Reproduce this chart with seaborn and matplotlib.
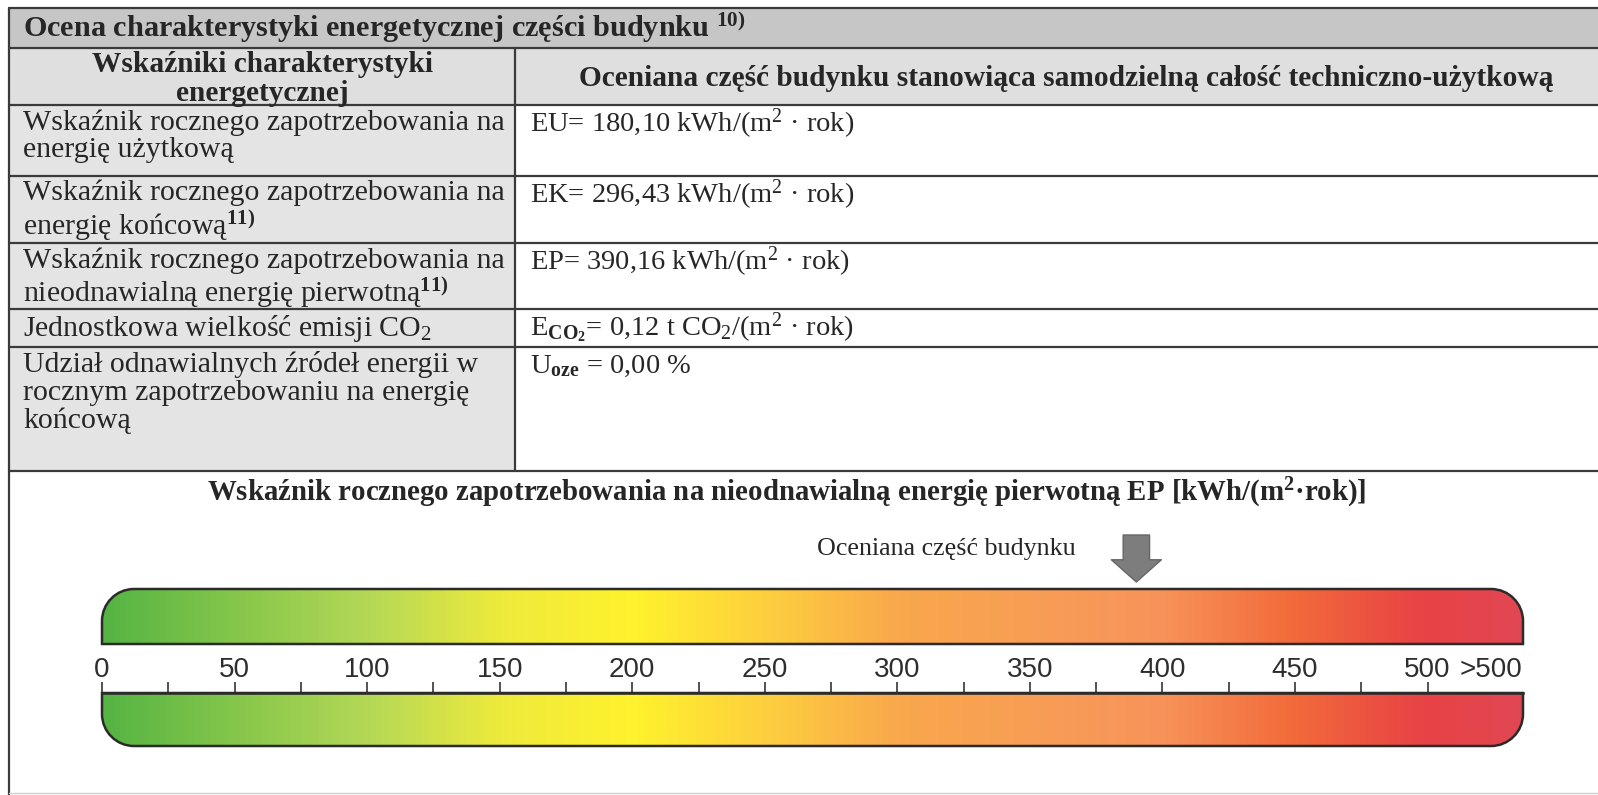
import numpy as np
import matplotlib
matplotlib.use("Agg")
import matplotlib.pyplot as plt
import seaborn as sns
from matplotlib.patches import Rectangle, PathPatch
from matplotlib.path import Path

# --- data -------------------------------------------------------------
table_title = r"Ocena charakterystyki energetycznej części budynku $^{\mathbf{10)}}$"
header_left = ["Wskaźniki charakterystyki", "energetycznej"]
header_right = "Oceniana część budynku stanowiąca samodzielną całość techniczno-użytkową"

row_labels = [
    ["Wskaźnik rocznego zapotrzebowania na", "energię użytkową"],
    ["Wskaźnik rocznego zapotrzebowania na", r"energię końcową$^{\mathbf{11)}}$"],
    ["Wskaźnik rocznego zapotrzebowania na", r"nieodnawialną energię pierwotną$^{\mathbf{11)}}$"],
    [r"Jednostkowa wielkość emisji CO$_2$"],
    ["Udział odnawialnych źródeł energii w", "rocznym zapotrzebowaniu na energię", "końcową"],
]
row_values = [
    r"EU= 180,10 kWh/(m$^2$ · rok)",
    r"EK= 296,43 kWh/(m$^2$ · rok)",
    r"EP= 390,16 kWh/(m$^2$ · rok)",
    r"E$_{\mathbf{CO_2}}$= 0,12 t CO$_2$/(m$^2$ · rok)",
    r"U$_{\mathbf{oze}}$ = 0,00 %",
]

scale_title = r"Wskaźnik rocznego zapotrzebowania na nieodnawialną energię pierwotną EP [kWh/(m$^{\mathbf{2}}$·rok)]"
marker_label = "Oceniana część budynku"
ep_value = 390.16

scale_ticks = [0, 50, 100, 150, 200, 250, 300, 350, 400, 450, 500]
scale_minor = [25, 75, 125, 175, 225, 275, 325, 375, 425, 475]
scale_over = ">500"
scale_over_at = 524
scale_max = 536
# colour of the scale every 50 units, 0..550
scale_colors = ["#55b443", "#86c64b", "#b4d856", "#eeea3c", "#fff22d", "#fdcf3e",
                "#f9a84c", "#f89e55", "#f7935a", "#f26a3a", "#e84246", "#df4a58"]

# --- style ------------------------------------------------------------
sns.set_theme(style="white")
plt.rcParams["font.family"] = ["Liberation Serif", "DejaVu Serif"]
plt.rcParams["mathtext.fontset"] = "custom"
plt.rcParams["mathtext.rm"] = "Liberation Serif"
plt.rcParams["mathtext.it"] = "Liberation Serif:italic"
plt.rcParams["mathtext.bf"] = "Liberation Serif:bold"

W, H = 1598, 795
fig = plt.figure(figsize=(W / 100, H / 100), dpi=100)
fig.patch.set_facecolor("white")
ax = fig.add_axes([0, 0, 1, 1])
ax.set_xlim(0, W)
ax.set_ylim(H, 0)
ax.axis("off")

ink = "#262626"
line_c = "#3a3a3a"
col_x = [9, 515, W]
row_y = [8, 48, 105, 176, 243, 309, 347, 471]

# cell backgrounds
ax.add_patch(Rectangle((col_x[0], row_y[0]), W - col_x[0], row_y[1] - row_y[0], fc="#c6c6c6", ec="none"))
ax.add_patch(Rectangle((col_x[0], row_y[1]), W - col_x[0], row_y[2] - row_y[1], fc="#dfdfdf", ec="none"))
ax.add_patch(Rectangle((col_x[0], row_y[2]), col_x[1] - col_x[0], row_y[-1] - row_y[2], fc="#e4e4e4", ec="none"))

# grid lines
for y in row_y:
    ax.plot([col_x[0], W], [y, y], color=line_c, lw=1.6)
ax.plot([col_x[0], col_x[0]], [row_y[0], H], color=line_c, lw=1.6)
ax.plot([col_x[1], col_x[1]], [row_y[1], row_y[-1]], color=line_c, lw=1.6)
ax.plot([col_x[0], W], [H - 2, H - 2], color="#d0d0d0", lw=1.0)

fs_bold = 21.2
fs_lab = 21.5
fs_val = 20.5
ax.text(23, 28, table_title, fontsize=21.8, fontweight="bold", color=ink, va="center")
ax.text(262, 51, "\n".join(header_left), fontsize=fs_bold, fontweight="bold", color=ink,
        ha="center", va="top", multialignment="center", linespacing=1.1)
ax.text(1066, 79, header_right, fontsize=fs_bold, fontweight="bold", color=ink, ha="center", va="center")

for r, lines in enumerate(row_labels):
    top = row_y[r + 2]
    ax.text(23, top + 4, "\n".join(lines), fontsize=fs_lab, color=ink, va="top",
            linespacing=1.08)
    ax.text(530, top + 19, row_values[r], fontsize=fs_val, color=ink, va="center")

ax.text(787, 493, scale_title, fontsize=20.8, fontweight="bold", color=ink, ha="center", va="center")
ax.text(1076, 549, marker_label, fontsize=18.7, color=ink, ha="right", va="center")

# --- scale bar --------------------------------------------------------
bx0, bx1 = 102, 1523
by_top, by_bot = 589, 746
bax = fig.add_axes([bx0 / W, (H - by_bot) / H, (bx1 - bx0) / W, (by_bot - by_top) / H])
bax.set_xlim(0, scale_max)
bax.set_ylim(0, 1)
bax.patch.set_alpha(0)

cmap = sns.blend_palette(scale_colors, as_cmap=True)
grad = np.linspace(0, scale_max, 800)[None, :]

px_per_unit = (bx1 - bx0) / scale_max
rx = 32 / px_per_unit
ry = 32 / (by_bot - by_top)
k = 0.5523
axis_y = (by_bot - 693) / (by_bot - by_top)
up_y0 = (by_bot - 644) / (by_bot - by_top)


def upper_path(x0, x1, y0, y1):
    verts = [(x0, y0), (x0, y1 - ry),
             (x0, y1 - ry + k * ry), (x0 + rx - k * rx, y1), (x0 + rx, y1),
             (x1 - rx, y1),
             (x1 - rx + k * rx, y1), (x1, y1 - ry + k * ry), (x1, y1 - ry),
             (x1, y0), (x0, y0)]
    codes = [Path.MOVETO, Path.LINETO, Path.CURVE4, Path.CURVE4, Path.CURVE4,
             Path.LINETO, Path.CURVE4, Path.CURVE4, Path.CURVE4, Path.LINETO, Path.CLOSEPOLY]
    return Path(verts, codes)


def lower_path(x0, x1, y0, y1):
    verts = [(x0, y1), (x1, y1), (x1, y0 + ry),
             (x1, y0 + ry - k * ry), (x1 - rx + k * rx, y0), (x1 - rx, y0),
             (x0 + rx, y0),
             (x0 + rx - k * rx, y0), (x0, y0 + ry - k * ry), (x0, y0 + ry),
             (x0, y1)]
    codes = [Path.MOVETO, Path.LINETO, Path.LINETO, Path.CURVE4, Path.CURVE4, Path.CURVE4,
             Path.LINETO, Path.CURVE4, Path.CURVE4, Path.CURVE4, Path.CLOSEPOLY]
    return Path(verts, codes)


for path, (y0, y1) in [(upper_path(0, scale_max, up_y0, 1.0), (up_y0, 1.0)),
                       (lower_path(0, scale_max, 0.0, axis_y), (0.0, axis_y))]:
    im = bax.imshow(grad, extent=[0, scale_max, y0, y1], cmap=cmap, vmin=0, vmax=550,
                    aspect="auto", interpolation="bilinear")
    outline = PathPatch(path, fc="none", ec="#2b2b2b", lw=1.8, clip_on=False)
    bax.add_patch(outline)
    im.set_clip_path(outline)

bax.set_xlim(0, scale_max)
bax.set_ylim(0, 1)
bax.set_yticks([])
sns.despine(ax=bax, left=True, right=True, bottom=True, top=False)
bax.xaxis.tick_top()
bax.spines["top"].set_position(("axes", axis_y))
bax.spines["top"].set_color("#2b2b2b")
bax.spines["top"].set_linewidth(1.8)
bax.set_xticks(scale_ticks)
bax.set_xticklabels([str(v) for v in scale_ticks])
bax.set_xticks(scale_minor, minor=True)
tick_len = 8
tick_pad = -0.5
bax.tick_params(axis="x", which="both", direction="out", length=tick_len, width=1.3,
                color="#444444", pad=tick_pad, top=True, bottom=False)
bax.tick_params(axis="x", which="major", labelsize=20, labelcolor="#2e2e2e",
                labelfontfamily="Liberation Sans")
bax.annotate(scale_over, xy=(scale_over_at, axis_y), xycoords=bax.get_xaxis_transform(),
             xytext=(0, tick_len + tick_pad), textcoords="offset points",
             fontsize=20, color="#2e2e2e", family="Liberation Sans",
             ha="center", va="bottom")

# arrow marking the assessed value, x through the scale's own data coordinates
ax.annotate("", xy=(ep_value, 582), xytext=(ep_value, 535),
            xycoords=(bax.transData, ax.transData), textcoords=(bax.transData, ax.transData),
            arrowprops=dict(arrowstyle="simple,head_length=0.8,head_width=1.8,tail_width=0.95",
                            mutation_scale=20, fc="#7d7d7d", ec="#666666", lw=1,
                            shrinkA=0, shrinkB=0))

fig.savefig("out.png", dpi=100, facecolor="white")
